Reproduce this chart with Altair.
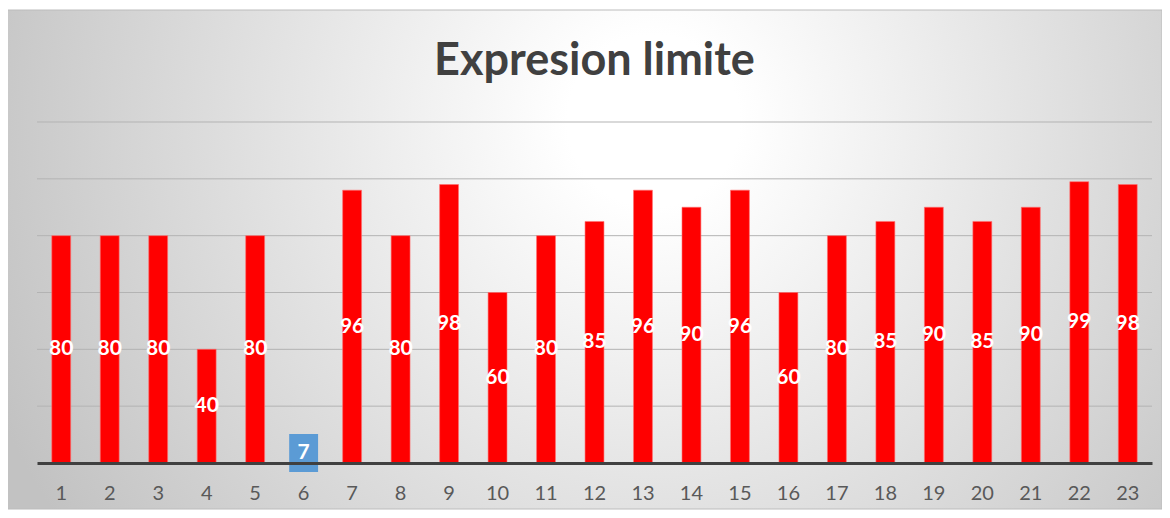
import altair as alt
import pandas as pd

categories = [str(i) for i in range(1, 24)]
values = [80, 80, 80, 40, 80, 7, 96, 80, 98, 60, 80, 85, 96, 90, 96, 60, 80, 85, 90, 85, 90, 99, 98]
grid_values = [20, 40, 60, 80, 100, 120]
title_text = "Expresion limite"

df = pd.DataFrame({"cat": categories, "value": values})
grid_df = pd.DataFrame({"g": grid_values})

W, H = 1115, 341
PAD = {"left": 29, "top": 114, "right": 10, "bottom": 47}

xenc = alt.X("cat:N", sort=categories,
             scale=alt.Scale(paddingInner=0.61, paddingOuter=0.305),
             axis=alt.Axis(title=None, domainColor="#404040", domainWidth=3, ticks=False,
                           labelAngle=0, labelColor="#595959", labelFont="Lato",
                           labelFontSize=20, labelPadding=30, labelBaseline="middle",
                           grid=False, zindex=1))
yscale = alt.Scale(domain=[0, 120], nice=False)

bg = alt.Chart(alt.Data(values=[{"a": 1}])).mark_rect(
    fill={"gradient": "radial", "x1": 0.56, "y1": 0.38, "x2": 0.56, "y2": 0.38,
          "r1": 0, "r2": 0.62,
          "stops": [{"offset": 0, "color": "#ffffff"},
                    {"offset": 0.12, "color": "#ffffff"},
                    {"offset": 1, "color": "#c2c2c2"}]},
    stroke="#bcbcbc", strokeWidth=1
).encode(x=alt.value(-31), x2=alt.value(1125), y=alt.value(-112), y2=alt.value(387))

grid = alt.Chart(grid_df).mark_rule(color="#b3b3b3", strokeWidth=1).encode(
    y=alt.Y("g:Q", scale=yscale, axis=None)
)

bars = alt.Chart(df).mark_bar(color="#ff0000", stroke="#ff7070", strokeWidth=0.6).encode(
    x=xenc,
    y=alt.Y("value:Q", scale=yscale, axis=None),
)

labels = alt.Chart(df).transform_filter("datum.value >= 20").transform_calculate(
    mid="datum.value / 2"
).mark_text(color="white", font="Lato", fontWeight="bold", fontSize=21,
            baseline="middle", align="center").encode(
    x=alt.X("cat:N", sort=categories),
    y=alt.Y("mid:Q", scale=yscale, axis=None),
    text="value:Q",
)

small = alt.Chart(df).transform_filter("datum.value < 20").transform_calculate(
    mid="datum.value / 2"
)
box = small.mark_point(shape="M -0.76 -1 H 0.76 V 1 H -0.76 Z", size=1444,
                       filled=True, fill="#5b9bd5", opacity=1, strokeWidth=0).encode(
    x=alt.X("cat:N", sort=categories),
    y=alt.Y("mid:Q", scale=yscale, axis=None),
)
box_text = small.mark_text(color="white", font="Lato", fontWeight="bold", fontSize=21,
                           baseline="middle", align="center").encode(
    x=alt.X("cat:N", sort=categories),
    y=alt.Y("mid:Q", scale=yscale, axis=None),
    text="value:Q",
)

chart = alt.layer(bg, grid, bars, labels, box, box_text).properties(
    width=W, height=H,
    autosize=alt.AutoSizeParams(type="none"),
    padding=PAD,
    title=alt.TitleParams(title_text, font="Lato", fontSize=45, fontWeight="bold",
                          color="#404040", anchor="middle", baseline="alphabetic",
                          offset=47, dy=157.5),
).configure_view(stroke=None).configure(background="white")

chart.save("out.html", embed_options={"renderer": "svg", "actions": False})
